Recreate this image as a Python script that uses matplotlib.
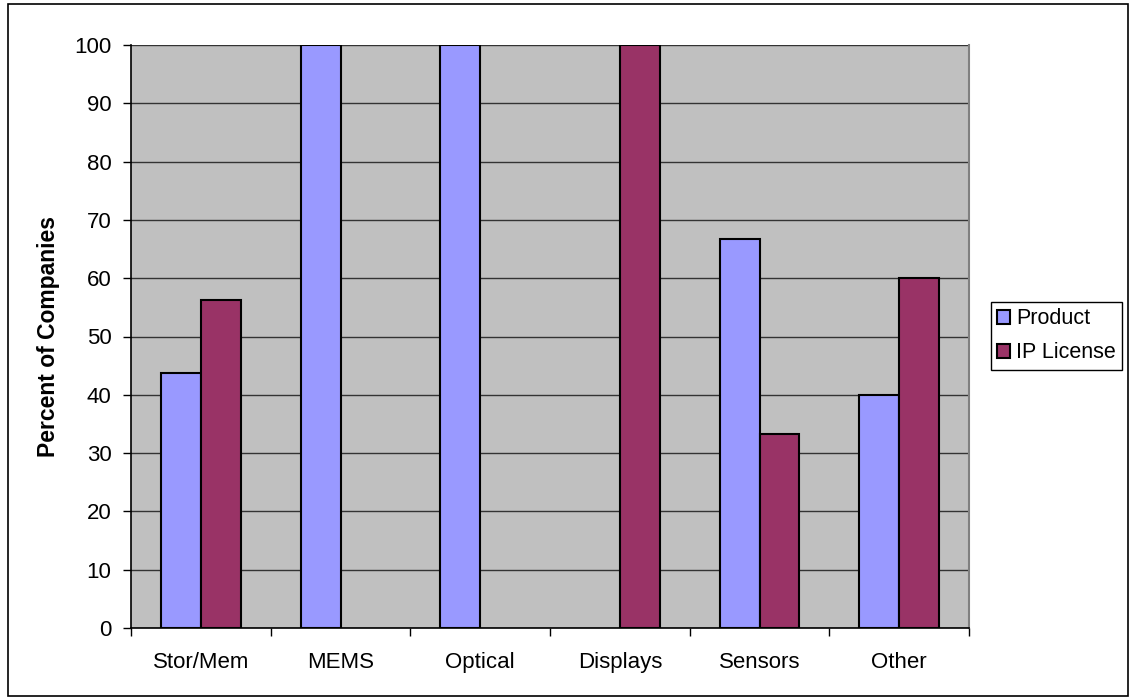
import matplotlib.pyplot as plt
import numpy as np
from matplotlib.patches import Rectangle

categories = ["Stor/Mem", "MEMS", "Optical", "Displays", "Sensors", "Other"]
product = [43.75, 100, 100, 0, 66.67, 40]
ip_license = [56.25, 0, 0, 100, 33.33, 60]
yticks = list(range(0, 101, 10))

plt.rcParams['font.family'] = ['Liberation Sans', 'DejaVu Sans']

fig = plt.figure(figsize=(11.32, 7.0), dpi=100)
fig.patch.set_facecolor('white')
fig.patches.append(Rectangle((8 / 1132, 4 / 700), 1120 / 1132, 692 / 700,
                             transform=fig.transFigure, fill=False,
                             edgecolor='black', linewidth=1.2))

ax = fig.add_axes([131 / 1132, 1 - 628 / 700, 838 / 1132, 583 / 700])
ax.set_facecolor('#C0C0C0')

x = np.arange(len(categories))
w = 1 / 3.5


def edge_widths(vals):
    # empty bars get no outline so nothing is drawn on the axis line
    return [1.5 if v > 0 else 0 for v in vals]


ax.bar(x - w / 2, product, width=w, color='#9999FF', edgecolor='black',
       linewidth=edge_widths(product), label='Product', zorder=3)
ax.bar(x + w / 2, ip_license, width=w, color='#993366', edgecolor='black',
       linewidth=edge_widths(ip_license), label='IP License', zorder=3)

ax.set_xlim(-0.5, len(categories) - 0.5)
ax.set_ylim(0, 100)
ax.set_yticks(yticks)
ax.yaxis.grid(True, color='#333333', linewidth=1.0, zorder=1)

ax.set_xticks(np.arange(-0.5, len(categories), 1.0))
ax.set_xticklabels([])
ax.set_xticks(x, minor=True)
ax.set_xticklabels(categories, minor=True)
ax.tick_params(axis='x', which='minor', length=0, pad=17, labelsize=16)
ax.tick_params(axis='x', which='major', length=6, width=1, direction='out')
ax.tick_params(axis='y', length=6, width=1, direction='out', labelsize=16, pad=8)

for side in ['left', 'bottom']:
    ax.spines[side].set_color('black')
    ax.spines[side].set_linewidth(1.2)
ax.spines['top'].set_visible(False)
ax.spines['right'].set_color('#808080')
ax.spines['right'].set_linewidth(1.5)

ax.set_ylabel('Percent of Companies', fontsize=16.5, fontweight='bold')
ax.yaxis.set_label_coords(-0.0845, 0.5)

leg = fig.legend(loc='upper left', bbox_to_anchor=(991 / 1132, 1 - 302 / 700),
                 fontsize=15.5, frameon=True, fancybox=False, framealpha=1,
                 edgecolor='black', handlelength=0.6, handleheight=0.6,
                 handletextpad=0.25, borderpad=0.3, labelspacing=0.6,
                 borderaxespad=0)
leg.get_frame().set_linewidth(1.0)

fig.savefig('out.png', dpi=100, facecolor='white')
